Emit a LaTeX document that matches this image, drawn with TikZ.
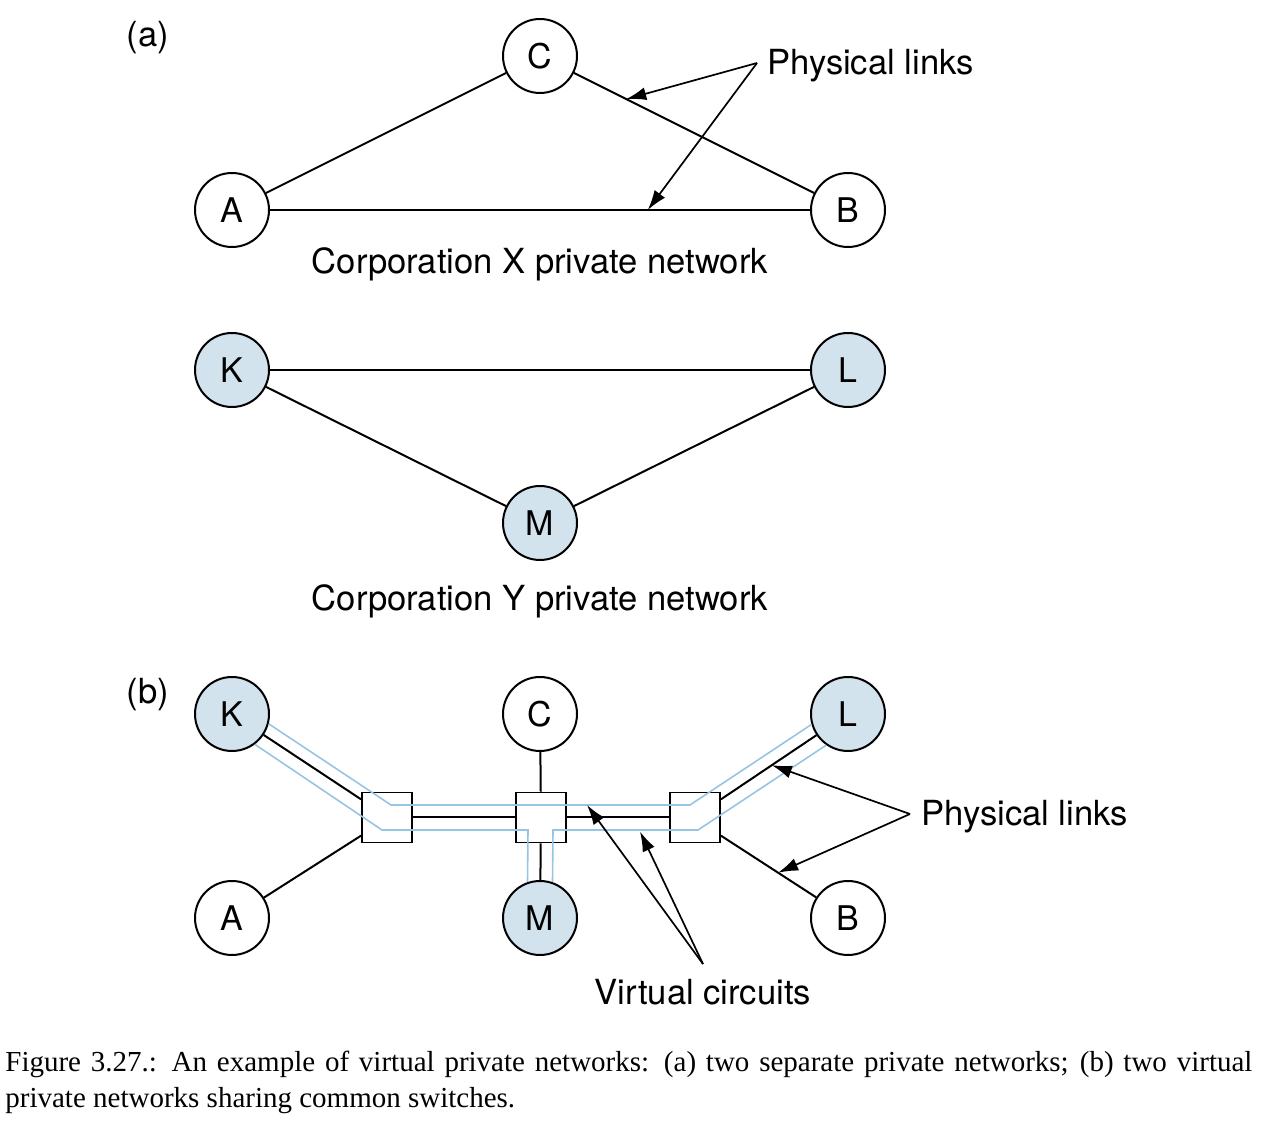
\documentclass[tikz,border=0pt]{standalone}
\usepackage{fontspec}
\setmainfont{TeX Gyre Heros}
\newfontfamily\capfont{Liberation Serif}
\usetikzlibrary{calc,arrows.meta}

\definecolor{vpnfill}{RGB}{211,227,238}
\definecolor{vcblue}{RGB}{150,196,228}

\tikzset{
  host/.style={circle, draw, line width=1pt, fill=white, minimum size=37pt, inner sep=0pt, font=\fontsize{17}{20}\selectfont},
  vpnhost/.style={host, fill=vpnfill},
  switchbox/.style={draw, line width=0.95pt, fill=white, minimum size=25pt, inner sep=0pt},
  link/.style={line width=1pt},
  vc/.style={vcblue, line width=0.8pt},
  pointer/.style={line width=0.85pt, -{Latex[length=10pt,width=6.5pt]}},
  lbl/.style={font=\fontsize{17.3}{20}\selectfont, inner sep=0pt}
}

\begin{document}
\begin{tikzpicture}[x=0.5pt,y=-0.5pt]%
   \useasboundingbox (0,0) rectangle (1270,1138);
   % (a) two separate networks
   \node[lbl] (parta) at (148,38) {(a)};
   \node[host] (Ca) at (540,56) {C};
   \node[host] (Aa) at (232,210) {A};
   \node[host] (Ba) at (848,210) {B};
   \draw[link] (Aa) -- (Ca);
   \draw[link] (Ca) -- (Ba);
   \draw[link] (Aa) -- (Ba);
   \node[lbl] (corpX) at (540,264) {Corporation X private network};
   \node[lbl, anchor=west] (physA) at (767,66) {Physical links};
   \coordinate (physAstart) at (757,63);
   \draw[pointer] (physAstart) -- ($(Ca)!0.28!(Ba)$);
   \draw[pointer] (physAstart) -- ($(Aa)!0.675!(Ba)$);

   \node[vpnhost] (Ka) at (232,370) {K};
   \node[vpnhost] (La) at (848,370) {L};
   \node[vpnhost] (Ma) at (540,523) {M};
   \draw[link] (Ka) -- (La);
   \draw[link] (Ka) -- (Ma);
   \draw[link] (Ma) -- (La);
   \node[lbl] (corpY) at (540,601) {Corporation Y private network};

   % (b) virtual networks over shared switches
   \node[lbl] (partb) at (148,695) {(b)};
   \node[vpnhost] (K) at (232,714) {K};
   \node[host] (C) at (540,714) {C};
   \node[vpnhost] (L) at (848,714) {L};
   \node[host] (A) at (232,918) {A};
   \node[vpnhost] (M) at (540,918) {M};
   \node[host] (B) at (848,918) {B};
   \node[switchbox] (swL) at (387,817.5) {};
   \node[switchbox] (swM) at (541,817.5) {};
   \node[switchbox] (swR) at (695,817.5) {};
   \draw[link] (K) -- (swL.145);
   \draw[link] (A) -- (swL.215);
   \draw[link] (swL) -- (swM);
   \draw[link] (swM) -- (swR);
   \draw[link] (C) -- (swM);
   \draw[link] (M) -- (swM);
   \draw[link] (swR.35) -- (L);
   \draw[link] (swR.325) -- (B);
   % virtual circuits
   \draw[vc] (K.-15) -- ($(swL.center)+(4,-12.5)$) -- ($(swR.center)+(-5,-12.5)$) -- (L.196);
   \draw[vc] (K.-53) -- ($(swL.center)+(-5,12.5)$) -- ($(swM.center)+(-13,12.5)$) -- ($(M.north)+(-12.5,2)$);
   \draw[vc] ($(M.north)+(12.5,2)$) -- ($(swM.center)+(12,12.5)$) -- ($(swR.center)+(3,12.5)$) -- (L.235);

   \node[lbl, anchor=west] (physB) at (921,817) {Physical links};
   \coordinate (physBstart) at (910,814);
   \draw[pointer] (physBstart) -- ($(swR.35)!0.4!(L)$);
   \draw[pointer] (physBstart) -- ($(swR.325)!0.45!(B)$);
   \node[lbl] (virt) at (703,992) {Virtual circuits};
   \coordinate (virtstart) at (703,964);
   \draw[pointer] (virtstart) -- ($(swM.center)+(46,-12.5)$);
   \draw[pointer] (virtstart) -- ($(swM.center)+(99,14)$);

   % caption
   \node[anchor=north west, inner sep=0pt, text width=623.5pt, align=justify,
         font=\capfont\fontsize{14.5}{18}\selectfont] (caption) at (5,1051)
     {Figure 3.27.: An example of virtual private networks: (a) two separate private networks; (b) two virtual\linebreak private networks sharing common switches.};
\end{tikzpicture}
\end{document}
